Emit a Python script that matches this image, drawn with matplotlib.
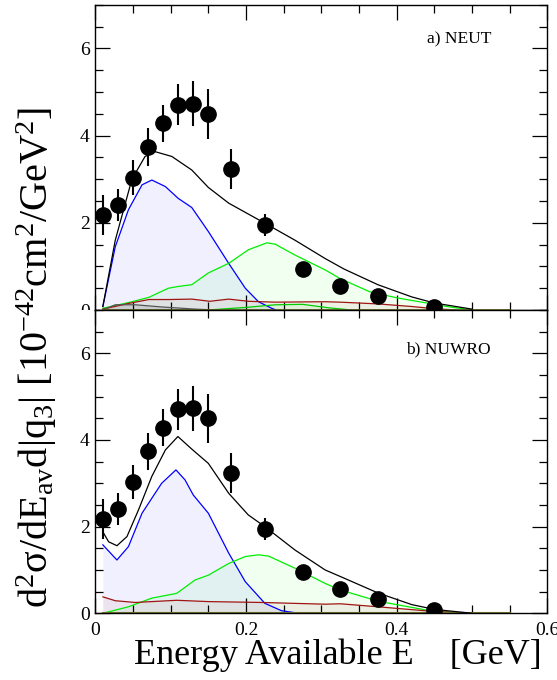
import numpy as np
import matplotlib
matplotlib.use("Agg")
import matplotlib.pyplot as plt
from matplotlib.patches import Rectangle
from matplotlib.ticker import MultipleLocator

plt.rcParams['font.family'] = ['Liberation Serif', 'DejaVu Serif']
plt.rcParams['mathtext.fontset'] = 'custom'
plt.rcParams['mathtext.rm'] = 'Liberation Serif'
plt.rcParams['mathtext.it'] = 'Liberation Serif:italic'

# data points (same in both panels)
data_x = [0.01, 0.03, 0.05, 0.07, 0.09, 0.11, 0.13, 0.15, 0.18, 0.225, 0.275, 0.325, 0.375, 0.45]
data_y = [2.18, 2.40, 3.03, 3.74, 4.28, 4.71, 4.73, 4.50, 3.24, 1.95, 0.95, 0.56, 0.33, 0.08]
data_err = [0.46, 0.37, 0.40, 0.43, 0.43, 0.47, 0.52, 0.57, 0.46, 0.25, 0.10, 0.08, 0.06, 0.03]

# a) NEUT
neut_tot_x = [0.01, 0.0265, 0.0486, 0.066, 0.0795, 0.1016, 0.128, 0.15, 0.177, 0.225, 0.265, 0.305, 0.33, 0.375, 0.42, 0.45, 0.5]
neut_tot_y = [0.08, 1.6, 3.0, 3.52, 3.63, 3.52, 3.21, 2.81, 2.45, 1.99, 1.6, 1.18, 0.94, 0.58, 0.3, 0.16, 0.02]
neut_qe_x = [0.01, 0.0265, 0.044, 0.062, 0.075, 0.093, 0.11, 0.128, 0.15, 0.177, 0.199, 0.2165, 0.234, 0.24]
neut_qe_y = [0.08, 1.45, 2.3, 2.87, 2.98, 2.83, 2.56, 2.35, 1.8, 1.07, 0.5, 0.19, 0.04, 0.0]
neut_res_x = [0.01, 0.044, 0.071, 0.097, 0.11, 0.128, 0.15, 0.177, 0.203, 0.2275, 0.2386, 0.265, 0.305, 0.325, 0.364, 0.4, 0.44, 0.47, 0.497]
neut_res_y = [0.04, 0.17, 0.29, 0.5, 0.54, 0.58, 0.85, 1.07, 1.38, 1.54, 1.51, 1.26, 0.92, 0.72, 0.42, 0.28, 0.16, 0.07, 0.01]
neut_mec_x = [0.01, 0.044, 0.071, 0.097, 0.128, 0.152, 0.177, 0.203, 0.239, 0.305, 0.325, 0.375, 0.42, 0.45, 0.48]
neut_mec_y = [0.02, 0.15, 0.24, 0.24, 0.25, 0.2, 0.25, 0.2, 0.18, 0.19, 0.18, 0.14, 0.08, 0.03, 0.0]
neut_coh_x = [0.01, 0.0265, 0.053, 0.088, 0.133, 0.16]
neut_coh_y = [0.0, 0.12, 0.12, 0.07, 0.02, 0.0]
neut_dis_x = [0.15, 0.2, 0.239, 0.275, 0.31, 0.34]
neut_dis_y = [0.0, 0.06, 0.12, 0.13, 0.05, 0.0]

# b) NUWRO
nuwro_tot_x = [0.01, 0.0177, 0.0287, 0.042, 0.0574, 0.075, 0.093, 0.1096, 0.128, 0.15, 0.177, 0.203, 0.225, 0.265, 0.305, 0.325, 0.375, 0.42, 0.45, 0.5]
nuwro_tot_y = [1.88, 1.65, 1.56, 1.77, 2.39, 3.16, 3.77, 4.08, 3.79, 3.46, 2.77, 2.27, 2.0, 1.46, 1.0, 0.85, 0.47, 0.2, 0.09, 0.0]
nuwro_qe_x = [0.01, 0.0287, 0.044, 0.062, 0.088, 0.107, 0.119, 0.13, 0.15, 0.177, 0.199, 0.225, 0.247, 0.27]
nuwro_qe_y = [1.58, 1.23, 1.54, 2.31, 3.0, 3.31, 3.08, 2.73, 2.31, 1.39, 0.73, 0.23, 0.06, 0.0]
nuwro_res_x = [0.01, 0.044, 0.075, 0.108, 0.1325, 0.15, 0.177, 0.199, 0.2165, 0.23, 0.265, 0.305, 0.325, 0.375, 0.45, 0.5]
nuwro_res_y = [0.0, 0.15, 0.35, 0.46, 0.77, 0.88, 1.15, 1.31, 1.35, 1.32, 1.04, 0.69, 0.54, 0.28, 0.04, 0.0]
nuwro_mec_x = [0.01, 0.0265, 0.053, 0.108, 0.15, 0.22, 0.305, 0.325, 0.375, 0.45, 0.5, 0.55]
nuwro_mec_y = [0.38, 0.29, 0.25, 0.3, 0.27, 0.25, 0.21, 0.22, 0.15, 0.04, 0.01, 0.0]

zero_x = [0.01, 0.55]
zero_y = [0.0, 0.0]

fig = plt.figure(figsize=(5.57, 6.8), dpi=100)
ax1 = fig.add_axes([0.1711, 0.5441, 0.8118, 0.449])
ax2 = fig.add_axes([0.1711, 0.0981, 0.8118, 0.446])


def draw_comp(ax, x, y, line, fill, alpha, lw=0.9):
    ax.fill_between(x, 0, y, color=fill, alpha=alpha, lw=0)
    ax.plot(x, y, color=line, lw=lw)


# top panel
draw_comp(ax1, neut_qe_x, neut_qe_y, '#0000ff', '#0000ff', 0.06)
draw_comp(ax1, neut_res_x, neut_res_y, '#00ee00', '#00ff00', 0.06)
draw_comp(ax1, neut_mec_x, neut_mec_y, '#a01414', '#c04040', 0.08)
draw_comp(ax1, neut_coh_x, neut_coh_y, '#555555', '#606060', 0.15)
draw_comp(ax1, neut_dis_x, neut_dis_y, '#00cc00', '#00ff00', 0.05)
ax1.plot(zero_x, zero_y, color='#7a7a30', lw=1.2)
ax1.plot(neut_tot_x, neut_tot_y, color='black', lw=0.9)

# bottom panel
draw_comp(ax2, nuwro_qe_x, nuwro_qe_y, '#0000ff', '#0000ff', 0.06)
draw_comp(ax2, nuwro_res_x, nuwro_res_y, '#00ee00', '#00ff00', 0.06)
draw_comp(ax2, nuwro_mec_x, nuwro_mec_y, '#a01414', '#c04040', 0.08)
ax2.plot(zero_x, zero_y, color='#7a7a30', lw=1.5)
ax2.plot(nuwro_tot_x, nuwro_tot_y, color='black', lw=0.9)

for ax in (ax1, ax2):
    ax.errorbar(data_x, data_y, yerr=data_err, fmt='o', color='black',
                markersize=11, elinewidth=1.5, capsize=0, zorder=5)
    ax.set_xlim(0, 0.6)
    ax.set_ylim(0, 7)
    ax.xaxis.set_major_locator(MultipleLocator(0.2))
    ax.xaxis.set_minor_locator(MultipleLocator(0.05))
    ax.yaxis.set_major_locator(MultipleLocator(2))
    ax.yaxis.set_minor_locator(MultipleLocator(0.5))
    ax.tick_params(which='both', direction='in', top=True, right=True,
                   labelsize=14, width=0.9)
    ax.tick_params(which='major', length=11, pad=4)
    ax.tick_params(which='minor', length=5.5)
    for s in ax.spines.values():
        s.set_linewidth(1.0)

ax1.set_xticklabels([])
ax2.set_xticks([0, 0.2, 0.4, 0.6])
ax2.set_xticklabels(['0', '0.2', '0.4', '0.6'])
ax2.tick_params(axis='x', pad=6)

ax1.text(0.525, 6.2, 'a) NEUT', ha='right', va='center', fontsize=12.5)
ax2.text(0.525, 6.08, 'b) NUWRO', ha='right', va='center', fontsize=12.5)

# hide the lower half of the top panel's "0" label
fig.patches.append(Rectangle((0.09, 0.50), 0.078, 0.0441, transform=fig.transFigure,
                             facecolor='white', edgecolor='none', zorder=10))

fig.text(0.066, 0.475,
         r'd$^{2}$σ/dE$_{\rm av}$d|q$_{3}$| [10$^{-42}$cm$^{2}$/GeV$^{2}$]',
         rotation=90, ha='center', va='center', fontsize=29)
fig.text(0.972, 0.036, 'Energy Available E    [GeV]', ha='right', va='center', fontsize=26)

fig.savefig('out.png', dpi=100)
